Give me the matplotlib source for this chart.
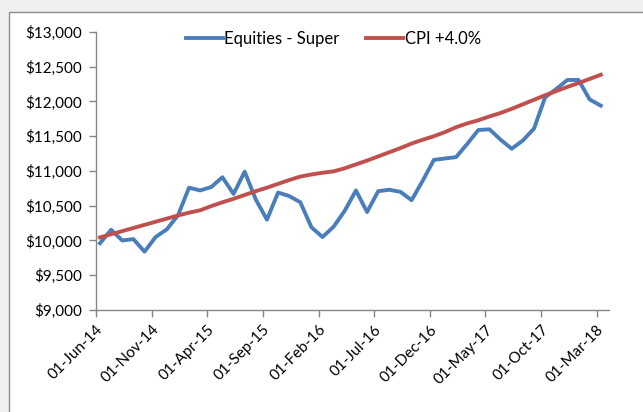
import numpy as np
import matplotlib
matplotlib.use("Agg")
import matplotlib.pyplot as plt
from matplotlib.patches import Rectangle

# monthly values, 01-Jun-14 .. 01-Mar-18
equities = [9961, 10154, 10000, 10020, 9840, 10050, 10160, 10360, 10760, 10720,
            10770, 10910, 10670, 10990, 10590, 10300, 10690, 10640, 10550, 10190,
            10050, 10200, 10430, 10720, 10410, 10710, 10730, 10700, 10580, 10860,
            11160, 11180, 11200, 11390, 11590, 11600, 11450, 11320, 11440, 11610,
            12060, 12180, 12310, 12310, 12030, 11940]
cpi = [10045, 10090, 10135, 10180, 10225, 10270, 10315, 10360, 10400, 10435,
       10495, 10550, 10600, 10655, 10710, 10760, 10815, 10870, 10920, 10950,
       10975, 10995, 11040, 11095, 11150, 11210, 11270, 11330, 11395, 11450,
       11500, 11560, 11630, 11685, 11730, 11785, 11835, 11895, 11960, 12025,
       12090, 12150, 12210, 12265, 12325, 12385]
tick_labels = ["01-Jun-14", "01-Nov-14", "01-Apr-15", "01-Sep-15", "01-Feb-16",
               "01-Jul-16", "01-Dec-16", "01-May-17", "01-Oct-17", "01-Mar-18"]
y_ticks = [9000, 9500, 10000, 10500, 11000, 11500, 12000, 12500, 13000]

W, H = 643, 412
fig = plt.figure(figsize=(W / 100, H / 100), dpi=100)
fig.patch.set_facecolor("#efefef")
plt.rcParams["font.family"] = ["Lato", "DejaVu Sans"]

# white chart area with grey border
fig.patches.append(Rectangle((9 / W, -0.05), 1.2, 1 - 12 / H + 0.05,
                             transform=fig.transFigure, facecolor="white",
                             edgecolor="#8c8c8c", linewidth=1.0, zorder=-5))

ax = fig.add_axes([96 / W, 1 - 310 / H, (609 - 96) / W, (310 - 32) / H])
ax.set_zorder(1)
ax.patch.set_alpha(0)

x = np.arange(len(equities)) + 0.36
ax.plot(x, equities, color="#4a7ebb", linewidth=2.8, label="Equities - Super",
        solid_joinstyle="round")
ax.plot(x, cpi, color="#c0504d", linewidth=2.8, label="CPI +4.0%",
        solid_joinstyle="round")

ax.set_xlim(0, 46.1)
ax.set_ylim(9000, 13000)
ax.set_xticks(np.arange(len(tick_labels)) * 5)
ax.set_xticklabels(tick_labels, rotation=45, ha="right", va="top",
                   rotation_mode="anchor", fontsize=11)
ax.set_yticks(y_ticks)
ax.set_yticklabels(["${:,}".format(v) for v in y_ticks], fontsize=11)

for s in ["top", "right"]:
    ax.spines[s].set_visible(False)
for s in ["left", "bottom"]:
    ax.spines[s].set_color("#868686")
    ax.spines[s].set_linewidth(1.0)
ax.tick_params(axis="both", colors="#868686", length=5, width=1.0,
               labelcolor="black")
ax.tick_params(axis="y", pad=5)
ax.tick_params(axis="x", pad=4)

ax.legend(loc="center", bbox_to_anchor=(333.5 / W, 1 - 39 / H),
          bbox_transform=fig.transFigure, ncol=2, frameon=False,
          fontsize=12, handlelength=2.2, handletextpad=0.1,
          columnspacing=1.6)

fig.savefig("out.png", dpi=100, facecolor=fig.get_facecolor())
